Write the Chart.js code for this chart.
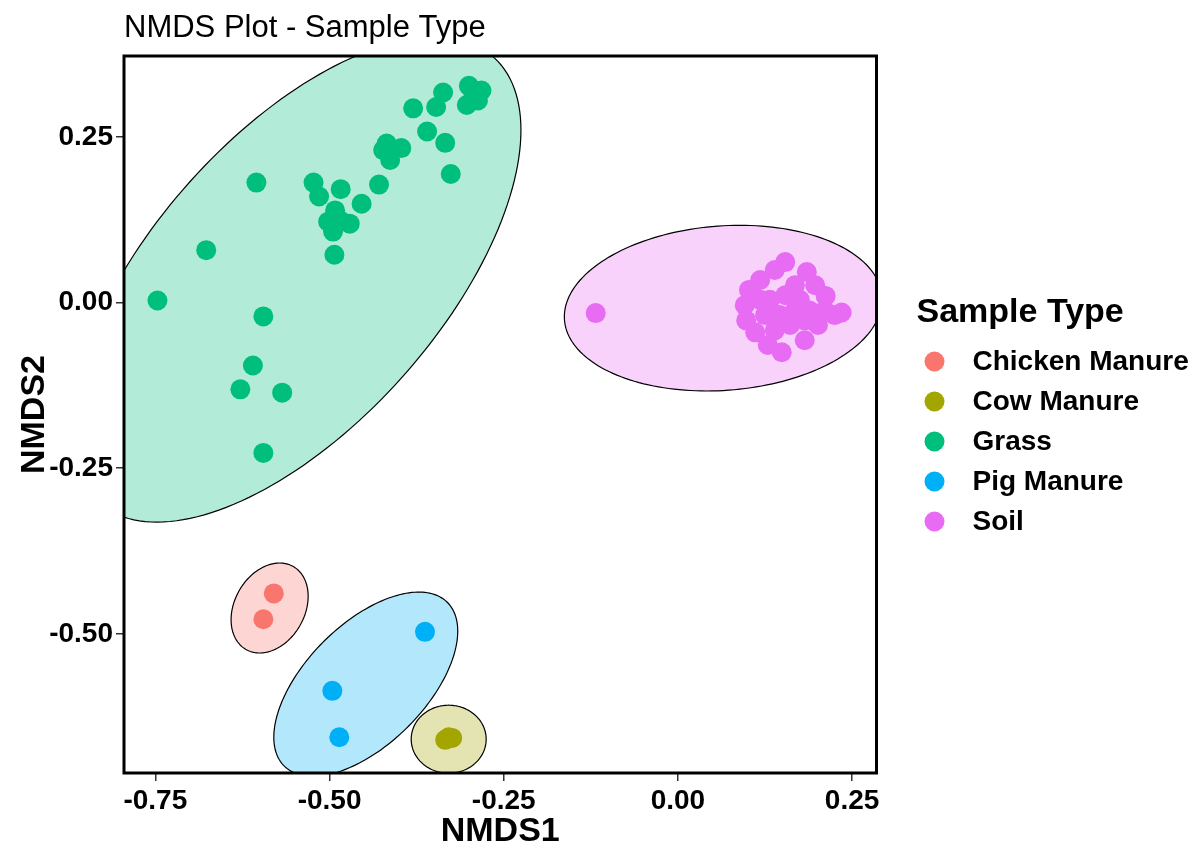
<!DOCTYPE html>
<html>
<head>
<meta charset="utf-8">
<title>NMDS Plot - Sample Type</title>
<script src="https://cdn.jsdelivr.net/npm/chart.js@4"></script>
<style>
  body { margin: 0; background: #fff; }
  #wrap { width: 1203px; height: 849px; }
</style>
</head>
<body>
<div id="wrap"><canvas id="nmds" width="1203" height="849"></canvas></div>
<script>
// ─────────────────────────────────────────────
// DATA
// ─────────────────────────────────────────────
const groups = ['Chicken Manure', 'Cow Manure', 'Grass', 'Pig Manure', 'Soil'];
const groupColors = ['#F8766D', '#A3A500', '#00BF7D', '#00B0F6', '#E76BF3'];

const chickenX = [-0.580, -0.595];
const chickenY = [-0.439, -0.478];

const cowX = [-0.334, -0.324, -0.329];
const cowY = [-0.660, -0.657, -0.656];

const grassX = [-0.605, -0.523, -0.515, -0.484, -0.454, -0.429, -0.492, -0.502, -0.485, -0.471,
  -0.495, -0.493, -0.677, -0.747, -0.418, -0.397, -0.413, -0.423, -0.360, -0.334,
  -0.326, -0.380, -0.347, -0.337, -0.300, -0.282, -0.303, -0.287, -0.294, -0.595,
  -0.610, -0.628, -0.568, -0.595];
const grassY = [0.181, 0.181, 0.160, 0.171, 0.149, 0.178, 0.139, 0.122, 0.124, 0.119,
  0.107, 0.072, 0.079, 0.003, 0.240, 0.233, 0.215, 0.230, 0.258, 0.241,
  0.194, 0.293, 0.295, 0.317, 0.327, 0.320, 0.298, 0.305, 0.318, -0.021,
  -0.095, -0.131, -0.136, -0.227];

const pigX = [-0.363, -0.496, -0.486];
const pigY = [-0.497, -0.586, -0.656];

const soilX = [-0.118, 0.154, 0.139, 0.185, 0.118, 0.102, 0.096, 0.098, 0.111, 0.129,
  0.149, 0.182, 0.201, 0.225, 0.235, 0.212, 0.197, 0.132, 0.154, 0.168,
  0.146, 0.175, 0.161, 0.125, 0.189, 0.139, 0.168, 0.182, 0.211, 0.118];
const soilY = [-0.016, 0.061, 0.049, 0.046, 0.034, 0.019, -0.004, -0.027, -0.045, -0.064,
  -0.075, -0.057, -0.034, -0.019, -0.015, 0.010, 0.026, 0.004, 0.011, -0.012,
  -0.019, 0.004, -0.034, -0.019, -0.012, -0.042, 0.026, -0.027, -0.012, 0.004];

// confidence ellipses per group: centre, x / y spread, correlation
const ellCx = [-0.586, -0.329, -0.5484, -0.448, 0.065];
const ellCy = [-0.461, -0.659, 0.0344, -0.576, -0.0085];
const ellSx = [0.0553, 0.0538, 0.3231, 0.132, 0.228];
const ellSy = [0.0679, 0.0513, 0.3658, 0.139, 0.125];
const ellR = [0.26, 0.0, 0.617, 0.576, 0.104];

const xTicks = [-0.75, -0.50, -0.25, 0.00, 0.25];
const yTicks = [-0.50, -0.25, 0.00, 0.25];

const FONT = '"Liberation Sans", Arial, Helvetica, sans-serif';

// ─────────────────────────────────────────────
// HELPERS
// ─────────────────────────────────────────────
function toPoints(xs, ys) {
  return xs.map((x, i) => ({ x: x, y: ys[i] }));
}

function hexAlpha(hex, a) {
  const n = parseInt(hex.slice(1), 16);
  return `rgba(${(n >> 16) & 255},${(n >> 8) & 255},${n & 255},${a})`;
}

const groupPoints = [
  toPoints(chickenX, chickenY),
  toPoints(cowX, cowY),
  toPoints(grassX, grassY),
  toPoints(pigX, pigY),
  toPoints(soilX, soilY)
];

// ─────────────────────────────────────────────
// PLUGINS: ellipses, panel border, side legend
// ─────────────────────────────────────────────
const ellipsePlugin = {
  id: 'ellipses',
  beforeDatasetsDraw(chart) {
    const { ctx, chartArea: a, scales: { x, y } } = chart;
    ctx.save();
    ctx.beginPath();
    ctx.rect(a.left, a.top, a.right - a.left, a.bottom - a.top);
    ctx.clip();
    groups.forEach((g, i) => {
      const k = Math.sqrt(1 - ellR[i] * ellR[i]);
      ctx.beginPath();
      for (let s = 0; s <= 180; s++) {
        const t = (s / 180) * Math.PI * 2;
        const dx = ellSx[i] * Math.cos(t);
        const dy = ellSy[i] * (ellR[i] * Math.cos(t) + k * Math.sin(t));
        const px = x.getPixelForValue(ellCx[i] + dx);
        const py = y.getPixelForValue(ellCy[i] + dy);
        if (s === 0) ctx.moveTo(px, py); else ctx.lineTo(px, py);
      }
      ctx.closePath();
      ctx.fillStyle = hexAlpha(groupColors[i], 0.3);
      ctx.fill();
      ctx.lineWidth = 1.2;
      ctx.strokeStyle = '#000';
      ctx.stroke();
    });
    ctx.restore();
  }
};

const borderPlugin = {
  id: 'panelBorder',
  afterDatasetsDraw(chart) {
    const { ctx, chartArea: a } = chart;
    ctx.save();
    ctx.lineWidth = 3;
    ctx.strokeStyle = '#000';
    ctx.strokeRect(a.left, a.top, a.right - a.left, a.bottom - a.top);
    ctx.restore();
  }
};

const sideLegend = {
  id: 'sideLegend',
  afterDraw(chart) {
    const { ctx, chartArea: a } = chart;
    const mid = (a.top + a.bottom) / 2;
    const x0 = a.right + 40;
    ctx.save();
    ctx.fillStyle = '#000';
    ctx.textBaseline = 'middle';
    ctx.textAlign = 'left';
    ctx.font = `bold 34px ${FONT}`;
    ctx.fillText('Sample Type', x0, mid - 102);
    ctx.font = `bold 28px ${FONT}`;
    chart.data.datasets.forEach((ds, i) => {
      const cy = mid - 53 + i * 40;
      ctx.beginPath();
      ctx.arc(x0 + 18, cy, 10, 0, Math.PI * 2);
      ctx.fillStyle = ds.backgroundColor;
      ctx.fill();
      ctx.fillStyle = '#000';
      ctx.fillText(ds.label, x0 + 56, cy + 1);
    });
    ctx.restore();
  }
};

// ─────────────────────────────────────────────
// CHART
// ─────────────────────────────────────────────
Chart.defaults.font.family = FONT;
Chart.defaults.color = '#000';

new Chart(document.getElementById('nmds'), {
  type: 'scatter',
  data: {
    datasets: groups.map((g, i) => ({
      label: g,
      data: groupPoints[i],
      backgroundColor: groupColors[i],
      borderWidth: 0,
      pointRadius: 10,
      pointHoverRadius: 10
    }))
  },
  options: {
    responsive: false,
    animation: false,
    events: [],
    layout: { padding: { top: 0, right: 326.5, bottom: 0, left: 0 } },
    plugins: {
      legend: { display: false },
      tooltip: { enabled: false },
      title: {
        display: true,
        text: 'NMDS Plot - Sample Type',
        align: 'start',
        fullSize: false,
        color: '#000',
        font: { size: 31, weight: 'normal', lineHeight: 1.2 },
        padding: { top: 10, bottom: 8.8 }
      }
    },
    scales: {
      x: {
        type: 'linear',
        min: -0.795,
        max: 0.285,
        afterFit(scale) { scale.height = 76; },
        afterBuildTicks(scale) { scale.ticks = xTicks.map(v => ({ value: v })); },
        grid: { drawOnChartArea: false, drawTicks: true, tickLength: 8, color: '#333', lineWidth: 1.5 },
        border: { display: false },
        ticks: {
          maxRotation: 0,
          autoSkip: false,
          padding: 6,
          color: '#000',
          font: { size: 28, weight: 'bold', lineHeight: 1 },
          callback: v => v.toFixed(2)
        },
        title: {
          display: true,
          text: 'NMDS1',
          color: '#000',
          font: { size: 34, weight: 'bold', lineHeight: 1 },
          padding: { top: 0, bottom: 0 }
        }
      },
      y: {
        type: 'linear',
        min: -0.710,
        max: 0.372,
        afterFit(scale) { scale.width = 124; },
        afterBuildTicks(scale) { scale.ticks = yTicks.map(v => ({ value: v })); },
        grid: { drawOnChartArea: false, drawTicks: true, tickLength: 8, color: '#333', lineWidth: 1.5 },
        border: { display: false },
        ticks: {
          autoSkip: false,
          padding: 3,
          color: '#000',
          font: { size: 28, weight: 'bold', lineHeight: 1 },
          callback: v => v.toFixed(2)
        },
        title: {
          display: true,
          text: 'NMDS2',
          color: '#000',
          font: { size: 34, weight: 'bold', lineHeight: 1 },
          padding: { top: 18, bottom: 0 }
        }
      }
    }
  },
  plugins: [ellipsePlugin, borderPlugin, sideLegend]
});
</script>
</body>
</html>
